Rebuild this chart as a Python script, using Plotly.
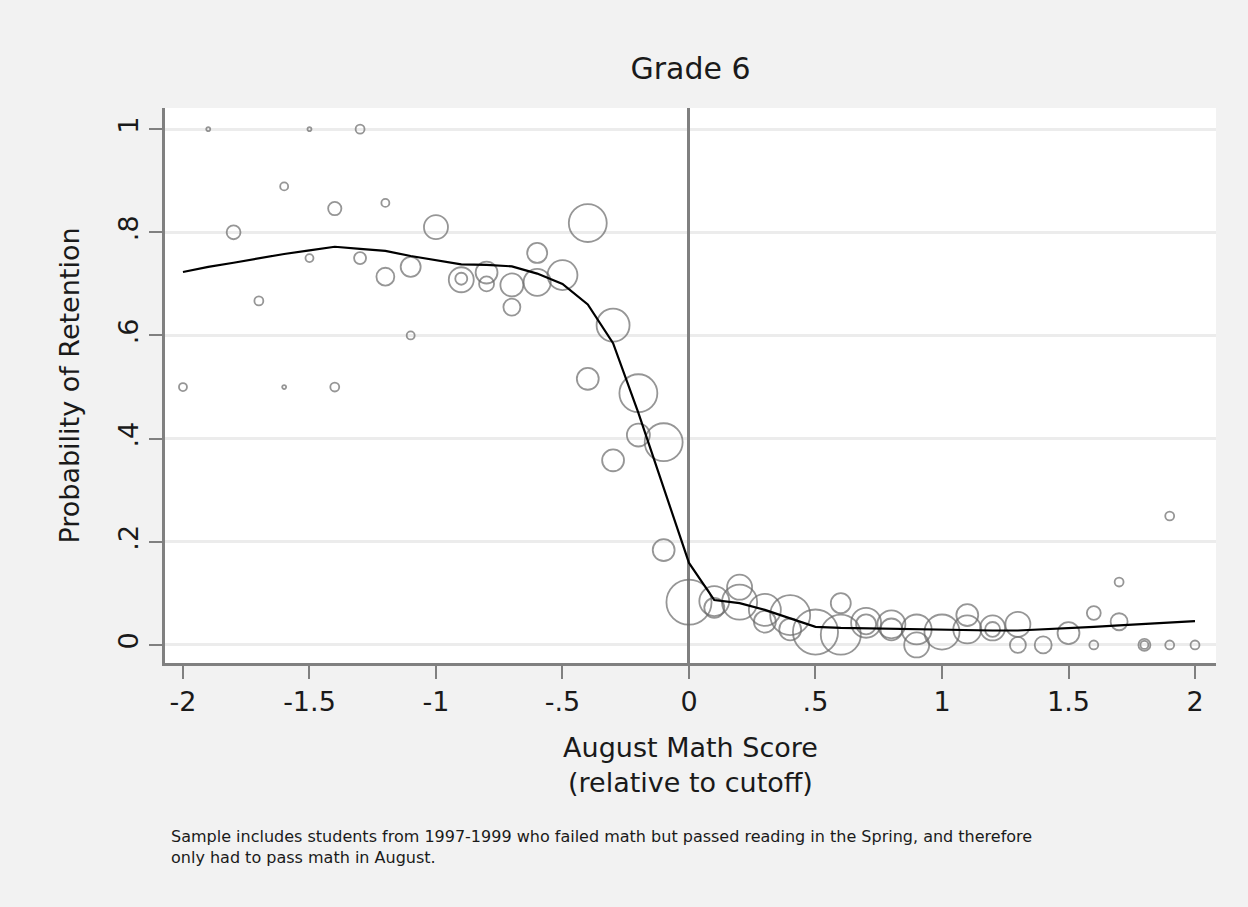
import numpy as np
import plotly.graph_objects as go

# ---- binned observations: score bin, share retained, number of students ----
bin_x = [-2.0, -1.9, -1.8, -1.7, -1.6, -1.6, -1.5, -1.5, -1.4, -1.4,
         -1.3, -1.3, -1.2, -1.2, -1.1, -1.1, -1.0, -0.9, -0.9, -0.8,
         -0.8, -0.7, -0.7, -0.6, -0.6, -0.5, -0.4, -0.4, -0.3, -0.3,
         -0.2, -0.2, -0.1, -0.1, 0.0, 0.1, 0.1, 0.2, 0.2, 0.3,
         0.3, 0.4, 0.4, 0.5, 0.6, 0.6, 0.7, 0.7, 0.8, 0.8,
         0.9, 0.9, 1.0, 1.1, 1.1, 1.2, 1.2, 1.3, 1.3, 1.4,
         1.5, 1.6, 1.6, 1.7, 1.7, 1.8, 1.8, 1.9, 1.9, 2.0]
bin_share = [0.5, 1.0, 0.8, 0.667, 0.889, 0.5, 1.0, 0.75, 0.846, 0.5,
             1.0, 0.75, 0.857, 0.714, 0.733, 0.6, 0.81, 0.708, 0.71, 0.722,
             0.70, 0.698, 0.655, 0.76, 0.703, 0.717, 0.818, 0.516, 0.62, 0.358,
             0.488, 0.407, 0.393, 0.184, 0.083, 0.085, 0.072, 0.112, 0.083, 0.068,
             0.045, 0.058, 0.03, 0.025, 0.02, 0.081, 0.043, 0.04, 0.04, 0.03,
             0.03, 0.0, 0.025, 0.058, 0.03, 0.033, 0.03, 0.04, 0.0, 0.0,
             0.023, 0.062, 0.0, 0.045, 0.122, 0.0, 0.0, 0.25, 0.0, 0.0]
bin_n = [4, 1, 12, 5, 4, 1, 1, 4, 11, 5,
         5, 9, 4, 20, 25, 4, 36, 39, 9, 30,
         14, 33, 18, 25, 46, 56, 90, 30, 68, 30,
         90, 33, 90, 30, 127, 56, 25, 39, 77, 64,
         30, 100, 30, 127, 100, 25, 56, 25, 49, 30,
         56, 39, 77, 30, 49, 39, 14, 39, 16, 18,
         30, 12, 5, 18, 5, 9, 4, 5, 5, 5]

# ---- smoothed fit ----
fit_x = [-2.0, -1.9, -1.8, -1.7, -1.6, -1.5, -1.4, -1.3, -1.2, -1.1,
         -1.0, -0.9, -0.8, -0.7, -0.6, -0.5, -0.4, -0.3, -0.2, -0.1,
         0.0, 0.1, 0.2, 0.3, 0.4, 0.5, 0.6, 0.7, 0.8, 0.9,
         1.0, 1.1, 1.2, 1.3, 1.4, 1.5, 1.6, 1.7, 1.8, 1.9, 2.0]
fit_y = [0.723, 0.733, 0.741, 0.750, 0.758, 0.765, 0.772, 0.768, 0.764, 0.754,
         0.746, 0.738, 0.737, 0.734, 0.720, 0.700, 0.660, 0.585, 0.450, 0.306,
         0.159, 0.087, 0.081, 0.068, 0.052, 0.035, 0.033, 0.032, 0.031, 0.030,
         0.029, 0.028, 0.028, 0.028, 0.030, 0.033, 0.035, 0.038, 0.041, 0.043, 0.046]

x_ticks = [-2, -1.5, -1, -0.5, 0, 0.5, 1, 1.5, 2]
x_labels = ["-2", "-1.5", "-1", "-.5", "0", ".5", "1", "1.5", "2"]
y_ticks = [0, 0.2, 0.4, 0.6, 0.8, 1]
y_labels = ["0", ".2", ".4", ".6", ".8", "1"]

note_lines = ["Sample includes students from 1997-1999 who failed math but passed reading in the Spring, and therefore",
              "only had to pass math in August."]

FONT = "DejaVu Sans"
GRAY = "#808080"

fig = go.Figure()
fig.add_trace(go.Scatter(
    x=bin_x, y=bin_share, mode="markers",
    marker=dict(size=4 * np.sqrt(np.array(bin_n)), color="rgba(0,0,0,0)",
                line=dict(color="#6a6a6a", width=1.8)),
    showlegend=False, hoverinfo="x+y"))
fig.add_trace(go.Scatter(
    x=fit_x, y=fit_y, mode="lines",
    line=dict(color="black", width=2.2),
    showlegend=False))

fig.update_layout(
    width=1248, height=907,
    paper_bgcolor="#f2f2f2", plot_bgcolor="white",
    margin=dict(l=165, r=32, t=108, b=244, autoexpand=False),
    font=dict(family=FONT, color="#1a1a1a", size=27),
    title=dict(text="Grade 6", x=0.5, xref="paper", xanchor="center",
               y=1 - 68 / 907, yref="container", yanchor="middle",
               font=dict(size=30, family=FONT, color="#1a1a1a")),
    xaxis=dict(range=[-2.071, 2.083], tickvals=x_ticks, ticktext=x_labels,
               showgrid=False, zeroline=True, zerolinecolor=GRAY, zerolinewidth=2.5,
               showline=True, linecolor=GRAY, linewidth=3,
               ticks="outside", ticklen=13, tickwidth=2, tickcolor=GRAY,
               tickfont=dict(size=27),
               title=dict(text="August Math Score<br>(relative to cutoff)",
                          font=dict(size=27), standoff=22)),
    yaxis=dict(range=[-0.035, 1.041], tickvals=y_ticks, ticktext=y_labels,
               tickangle=-90,
               showgrid=True, gridcolor="#ececec", gridwidth=3, zeroline=False,
               showline=True, linecolor=GRAY, linewidth=3,
               ticks="outside", ticklen=13, tickwidth=2, tickcolor=GRAY,
               tickfont=dict(size=27),
               title=dict(text="Probability of Retention", font=dict(size=27), standoff=26)),
)

for line, ypix in zip(note_lines, [836, 857]):
    fig.add_annotation(text=line,
                       xref="paper", yref="paper", x=(169 - 165) / 1051, y=-(ypix - 663) / 555,
                       xanchor="left", yanchor="middle", showarrow=False,
                       font=dict(size=16, family=FONT, color="#1a1a1a"))

fig.write_html("out.html", config={"displayModeBar": False},
               post_script="document.body.style.margin='0';document.body.style.overflow='hidden';")
